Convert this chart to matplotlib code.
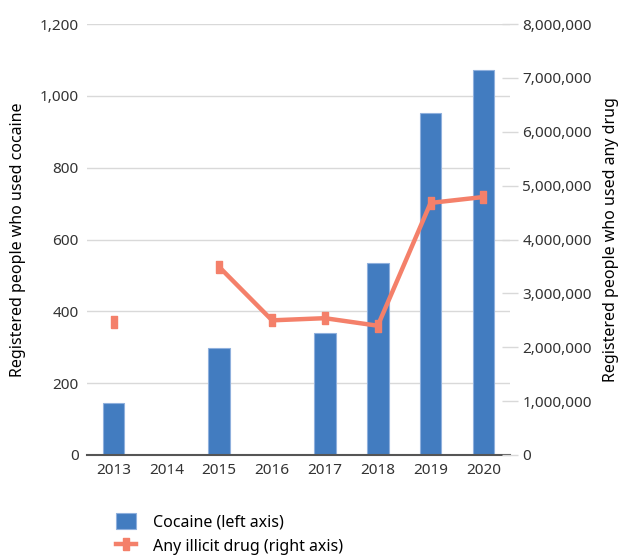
import numpy as np
import matplotlib
matplotlib.use("Agg")
from matplotlib import pyplot as plt
from matplotlib.ticker import FuncFormatter

plt.rcParams['font.family'] = ['Noto Sans', 'DejaVu Sans']

years = ["2013", "2014", "2015", "2016", "2017", "2018", "2019", "2020"]
cocaine = [146, np.nan, 299, np.nan, 341, 535, 951, 1073]
any_drug = [2470000, np.nan, 3490000, 2500000, 2540000, 2400000, 4680000, 4790000]

bar_color = "#427CC0"
line_color = "#F4806A"
text_color = "#333333"

# tall narrow rectangle marker, like the original
rect = [(-0.55, -1), (0.55, -1), (0.55, 1), (-0.55, 1), (-0.55, -1)]

fig = plt.figure(figsize=(6.18, 5.6), dpi=100)
ax = fig.add_axes([0.141, 0.1875, 0.684, 0.7695])
x = np.arange(len(years))

ax.bar(x, cocaine, width=0.41, color=bar_color, edgecolor="#8FB0DD", linewidth=0.8,
       zorder=2, label="Cocaine (left axis)")
ax.set_xlim(-0.5, len(years) - 0.5)
ax.set_ylim(0, 1200)
ax.set_yticks(np.arange(0, 1201, 200))
ax.yaxis.set_major_formatter(FuncFormatter(lambda v, p: f"{v:,.0f}"))
ax.grid(axis="y", color="#D9D9D9", linewidth=1, zorder=0)
ax.set_xticks(x)
ax.set_xticklabels(years)
for s in ["top", "right", "left"]:
    ax.spines[s].set_visible(False)
ax.spines["bottom"].set_color("#555555")
ax.spines["bottom"].set_linewidth(1.5)
ax.tick_params(axis="both", length=0, labelsize=11, colors=text_color, pad=6)
ax.set_ylabel("Registered people who used cocaine", fontsize=11.5, color="black", labelpad=10)

ax2 = ax.twinx()
ax2.plot(x, any_drug, color=line_color, linewidth=3.2, marker=rect, markersize=9,
         zorder=3, label="Any illicit drug (right axis)")
ax2.set_ylim(0, 8000000)
ax2.set_yticks(np.arange(0, 8000001, 1000000))
ax2.yaxis.set_major_formatter(FuncFormatter(lambda v, p: f"{v:,.0f}"))
for s in ["top", "right", "left", "bottom"]:
    ax2.spines[s].set_visible(False)
ax2.tick_params(axis="y", length=12, direction="inout", color="#D9D9D9", width=1,
                labelsize=11, colors=text_color, pad=3)
ax2.set_ylabel("Registered people who used any drug", fontsize=11.5, color="black",
               labelpad=8)

h1, l1 = ax.get_legend_handles_labels()
h2, l2 = ax2.get_legend_handles_labels()
fig.legend(h1 + h2, l1 + l2, loc="upper left", bbox_to_anchor=(0.165, 0.11),
           frameon=False, fontsize=11.5, handlelength=1.2, handleheight=1.2,
           handletextpad=1.1, labelspacing=0.45, labelcolor="black")

fig.savefig("out.png", dpi=100)
